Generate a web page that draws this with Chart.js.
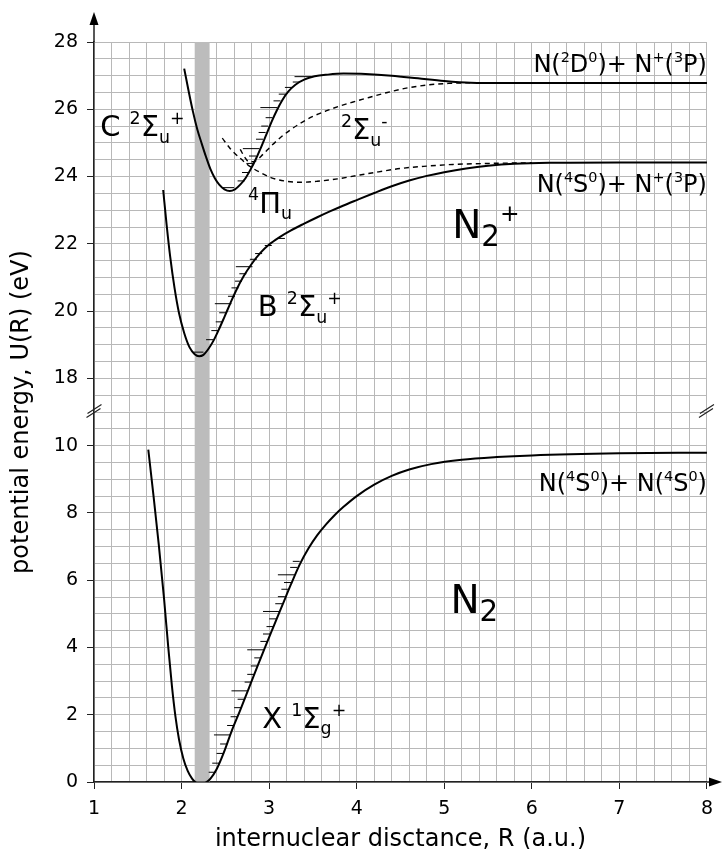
<!DOCTYPE html>
<html lang="en">
<head>
<meta charset="UTF-8" />
<title>N2 and N2+ potential energy curves</title>
<script src="https://cdn.jsdelivr.net/npm/chart.js"></script>
<style>
  html, body { margin: 0; padding: 0; background: #fff; }
  #wrap { width: 722px; height: 849px; }
</style>
</head>
<body>
<div id="wrap"><canvas id="pec"></canvas></div>
<script>
  // y axis is broken: 0..11 eV drawn as is, the N2+ part (17..28 eV) is shifted down by 6
  const BREAK_SHIFT = 6;

  // X 1Sg+ (N2), R in a.u., U in eV
  const xR = [1.62, 1.68, 1.74, 1.80, 1.85, 1.89, 1.93, 1.97, 2.02, 2.07, 2.12, 2.17, 2.22, 2.27, 2.33, 2.40, 2.48, 2.57, 2.67, 2.77, 2.865, 2.96, 3.05, 3.15, 3.25, 3.35, 3.45, 3.55, 3.65, 3.75, 3.85, 4.00, 4.20, 4.40, 4.60, 4.85, 5.20, 5.60, 6.00, 7.00, 8.00];
  const xU = [9.88, 8.50, 7.05, 5.45, 3.95, 2.85, 1.95, 1.28, 0.70, 0.33, 0.10, -0.03, -0.07, -0.03, 0.10, 0.38, 0.86, 1.50, 2.14, 2.80, 3.43, 4.05, 4.62, 5.25, 5.88, 6.47, 6.95, 7.34, 7.66, 7.94, 8.18, 8.50, 8.84, 9.10, 9.29, 9.45, 9.58, 9.66, 9.71, 9.77, 9.79];

  // B 2Su+ (N2+)
  const bR = [1.79, 1.83, 1.87, 1.92, 1.97, 2.03, 2.09, 2.15, 2.20, 2.25, 2.30, 2.36, 2.42, 2.49, 2.56, 2.63, 2.71, 2.80, 2.90, 3.00, 3.12, 3.25, 3.40, 3.55, 3.70, 3.85, 4.00, 4.20, 4.40, 4.60, 4.80, 5.00, 5.25, 5.50, 5.80, 6.20, 7.00, 8.00];
  const bU = [23.60, 22.55, 21.62, 20.68, 19.95, 19.35, 18.93, 18.72, 18.66, 18.70, 18.85, 19.10, 19.42, 19.83, 20.25, 20.65, 21.04, 21.40, 21.73, 21.98, 22.20, 22.40, 22.60, 22.79, 22.97, 23.14, 23.30, 23.51, 23.71, 23.88, 24.02, 24.13, 24.24, 24.32, 24.38, 24.41, 24.42, 24.42];

  // C 2Su+ (N2+)
  const cR = [2.03, 2.08, 2.13, 2.18, 2.23, 2.28, 2.33, 2.38, 2.43, 2.49, 2.55, 2.61, 2.67, 2.73, 2.79, 2.85, 2.91, 2.97, 3.03, 3.09, 3.15, 3.22, 3.30, 3.40, 3.52, 3.67, 3.85, 4.10, 4.40, 4.70, 5.00, 5.30, 5.70, 8.00];
  const cU = [27.21, 26.55, 25.93, 25.40, 24.98, 24.58, 24.22, 23.95, 23.76, 23.62, 23.57, 23.62, 23.76, 23.95, 24.22, 24.53, 24.88, 25.26, 25.64, 25.98, 26.27, 26.53, 26.73, 26.88, 26.98, 27.03, 27.06, 27.05, 27.00, 26.92, 26.84, 26.79, 26.78, 26.78];

  // 4Pu (dashed)
  const piR = [2.465, 2.55, 2.60, 2.68, 2.75, 2.83, 2.90, 3.02, 3.17, 3.36, 3.55, 3.78, 4.00, 4.25, 4.50, 4.80, 5.10, 5.50, 6.00];
  const piU = [25.14, 24.85, 24.71, 24.52, 24.36, 24.22, 24.12, 23.97, 23.87, 23.83, 23.86, 23.93, 24.03, 24.14, 24.24, 24.31, 24.36, 24.39, 24.41];

  // 2Su- (dashed)
  const smR = [2.67, 2.72, 2.77, 2.84, 2.93, 3.02, 3.13, 3.25, 3.38, 3.51, 3.65, 3.80, 3.95, 4.14, 4.35, 4.55, 4.80, 5.05, 5.30];
  const smU = [24.81, 24.58, 24.44, 24.46, 24.66, 24.90, 25.16, 25.40, 25.62, 25.80, 25.95, 26.09, 26.21, 26.35, 26.50, 26.62, 26.72, 26.77, 26.79];

  // vibrational levels (v = 0 spans the well, the others end on the right branch)
  const xV0 = [2.16, 2.29], xV0U = 0.0;
  const xLevU = [0.29, 0.56, 0.85, 1.13, 1.40, 1.68, 1.94, 2.21, 2.46, 2.71, 2.97, 3.20, 3.45, 3.69, 3.93, 4.18, 4.40, 4.62, 4.85, 5.07, 5.30, 5.51, 5.73, 5.93, 6.16, 6.38, 6.56];
  const xLevR = [2.39, 2.43, 2.48, 2.52, 2.56, 2.60, 2.64, 2.68, 2.72, 2.76, 2.80, 2.83, 2.87, 2.91, 2.94, 2.98, 3.01, 3.05, 3.08, 3.12, 3.15, 3.18, 3.22, 3.25, 3.29, 3.32, 3.35];

  const bV0 = [2.14, 2.25], bV0U = 18.78;
  const bLevU = [19.15, 19.42, 19.68, 19.95, 20.22, 20.44, 20.69, 20.89, 21.11, 21.32, 21.54, 21.71, 21.95, 22.16];
  const bLevR = [2.36, 2.42, 2.47, 2.51, 2.57, 2.61, 2.65, 2.69, 2.74, 2.81, 2.86, 2.92, 3.03, 3.18];

  const cV0 = [2.47, 2.60], cV0U = 23.67;
  const cLevU = [23.87, 24.12, 24.39, 24.61, 24.83, 25.11, 25.31, 25.50, 25.75, 26.05, 26.25, 26.45, 26.65, 26.81, 26.97];
  const cLevR = [2.72, 2.77, 2.82, 2.85, 2.89, 2.93, 2.96, 2.99, 3.04, 3.09, 3.13, 3.19, 3.26, 3.35, 3.48];

  // equilibrium band
  const bandR = [2.15, 2.32];

  const FONT = '"DejaVu Sans", "Liberation Sans", sans-serif';

  function curve(R, U, shift) {
    return R.map((r, i) => ({ x: r, y: U[i] - shift }));
  }

  function levels(v0, v0U, levU, levR, shift) {
    const pts = [{ x: v0[0], y: v0U - shift }, { x: v0[1], y: v0U - shift }, { x: null, y: null }];
    levU.forEach((u, i) => {
      const len = (i + 1) % 5 === 0 ? 0.19 : 0.08;
      pts.push({ x: levR[i] - len, y: u - shift }, { x: levR[i], y: u - shift }, { x: null, y: null });
    });
    return pts;
  }

  const solid = { borderColor: '#000', borderWidth: 2, pointRadius: 0, showLine: true, cubicInterpolationMode: 'monotone' };
  const dashed = { borderColor: '#000', borderWidth: 1.4, borderDash: [5, 4], pointRadius: 0, showLine: true, cubicInterpolationMode: 'monotone' };
  const hatch = { borderColor: '#000', borderWidth: 1, pointRadius: 0, showLine: true, tension: 0, spanGaps: false };

  const datasets = [
    Object.assign({ data: curve(xR, xU, 0) }, solid),
    Object.assign({ data: curve(bR, bU, BREAK_SHIFT) }, solid),
    Object.assign({ data: curve(cR, cU, BREAK_SHIFT) }, solid),
    Object.assign({ data: curve(piR, piU, BREAK_SHIFT) }, dashed),
    Object.assign({ data: curve(smR, smU, BREAK_SHIFT) }, dashed),
    Object.assign({ data: levels(xV0, xV0U, xLevU, xLevR, 0) }, hatch),
    Object.assign({ data: levels(bV0, bV0U, bLevU, bLevR, BREAK_SHIFT) }, hatch),
    Object.assign({ data: levels(cV0, cV0U, cLevU, cLevR, BREAK_SHIFT) }, hatch)
  ];

  // text labels: parts are [text, kind], kind n / sup / sub
  const labels = [
    { R: 1.07, U: 25.20, size: 29, parts: [['C ', 'n'], ['2', 'sup'], ['Σ', 'n'], ['u', 'sub'], ['+', 'sup']] },
    { R: 3.82, U: 25.11, size: 29, parts: [['2', 'sup'], ['Σ', 'n'], ['u', 'sub'], ['-', 'sup']] },
    { R: 2.76, U: 22.93, size: 29, parts: [['4', 'sup'], ['Π', 'n'], ['u', 'sub']] },
    { R: 5.09, U: 22.18, size: 39, sub: 0.75, parts: [['N', 'n'], ['2', 'sub'], ['+', 'sup']] },
    { R: 2.87, U: 19.85, size: 29, parts: [['B ', 'n'], ['2', 'sup'], ['Σ', 'n'], ['u', 'sub'], ['+', 'sup']] },
    { R: 2.92, U: 1.61, size: 29, parts: [['X ', 'n'], ['1', 'sup'], ['Σ', 'n'], ['g', 'sub'], ['+', 'sup']] },
    { R: 5.07, U: 5.03, size: 39, sub: 0.75, parts: [['N', 'n'], ['2', 'sub']] },
    { R: 8.0, U: 27.10, size: 24, align: 'right', parts: [['N(', 'n'], ['2', 'sup'], ['D', 'n'], ['0', 'sup'], [')+ N', 'n'], ['+', 'sup'], ['(', 'n'], ['3', 'sup'], ['P)', 'n']] },
    { R: 8.0, U: 23.53, size: 24, align: 'right', parts: [['N(', 'n'], ['4', 'sup'], ['S', 'n'], ['0', 'sup'], [')+ N', 'n'], ['+', 'sup'], ['(', 'n'], ['3', 'sup'], ['P)', 'n']] },
    { R: 8.0, U: 8.64, size: 24, align: 'right', parts: [['N(', 'n'], ['4', 'sup'], ['S', 'n'], ['0', 'sup'], [')+ N(', 'n'], ['4', 'sup'], ['S', 'n'], ['0', 'sup'], [')', 'n']] }
  ];

  function axisU(u) { return u > 11 ? u - BREAK_SHIFT : u; }

  function drawRich(ctx, lab, px, py) {
    const subScale = lab.sub || 0.6;
    const font = (kind) => {
      const fs = kind === 'n' ? lab.size : lab.size * (kind === 'sub' ? subScale : 0.6);
      return fs + 'px ' + FONT;
    };
    let w = 0;
    lab.parts.forEach(([t, k]) => { ctx.font = font(k); w += ctx.measureText(t).width; });
    let cx = lab.align === 'right' ? px - w : px;
    lab.parts.forEach(([t, k]) => {
      ctx.font = font(k);
      const dy = k === 'sup' ? -lab.size * 0.42 : k === 'sub' ? lab.size * 0.22 : 0;
      ctx.fillText(t, cx, py + dy);
      cx += ctx.measureText(t).width;
    });
  }

  const decor = {
    id: 'decor',
    beforeDatasetsDraw(chart) {
      const { ctx, chartArea, scales } = chart;
      const x0 = scales.x.getPixelForValue(bandR[0]);
      const x1 = scales.x.getPixelForValue(bandR[1]);
      ctx.save();
      ctx.fillStyle = '#bcbcbc';
      ctx.fillRect(x0, chartArea.top, x1 - x0, chartArea.bottom - chartArea.top);
      ctx.restore();
    },
    afterDraw(chart) {
      const { ctx, chartArea, scales } = chart;
      const L = chartArea.left, B = chartArea.bottom;
      ctx.save();
      ctx.strokeStyle = '#222';
      ctx.fillStyle = '#000';
      ctx.lineWidth = 1.5;
      // axis extensions and arrows
      ctx.beginPath();
      ctx.moveTo(L, chartArea.top); ctx.lineTo(L, 22);
      ctx.moveTo(chartArea.right, B); ctx.lineTo(712, B);
      ctx.stroke();
      ctx.beginPath();
      ctx.moveTo(L, 12); ctx.lineTo(L - 4.5, 25); ctx.lineTo(L + 4.5, 25); ctx.closePath();
      ctx.fill();
      ctx.beginPath();
      ctx.moveTo(722, B); ctx.lineTo(709, B - 4.5); ctx.lineTo(709, B + 4.5); ctx.closePath();
      ctx.fill();
      // break marks
      const yb = scales.y.getPixelForValue(11);
      ctx.lineWidth = 1.2;
      [L - 0.5, chartArea.right - 1].forEach((xc) => {
        ctx.beginPath();
        ctx.moveTo(xc - 7, yb + 5.5); ctx.lineTo(xc + 7, yb - 3.5);
        ctx.moveTo(xc - 6, yb + 1.5); ctx.lineTo(xc + 8, yb - 7.5);
        ctx.stroke();
      });
      // labels
      ctx.textBaseline = 'alphabetic';
      labels.forEach((lab) => {
        drawRich(ctx, lab, scales.x.getPixelForValue(lab.R), scales.y.getPixelForValue(axisU(lab.U)));
      });
      ctx.restore();
    }
  };

  const isInt = (v) => Math.abs(v - Math.round(v)) < 1e-6;
  const isEven = (v) => isInt(v) && Math.round(v) % 2 === 0;

  new Chart(document.getElementById('pec'), {
    type: 'scatter',
    data: { datasets },
    options: {
      responsive: true,
      maintainAspectRatio: false,
      animation: false,
      events: [],
      layout: { padding: { top: 42, right: 15, left: 0, bottom: 0 } },
      plugins: { legend: { display: false }, tooltip: { enabled: false } },
      scales: {
        x: {
          type: 'linear',
          min: 1, max: 8,
          afterFit(scale) { scale.height = 67; },
          ticks: {
            stepSize: 0.2, autoSkip: false, maxRotation: 0, padding: 9,
            color: '#000', font: { family: FONT, size: 19 },
            callback: (v) => (isInt(v) ? Math.round(v) : '')
          },
          grid: {
            color: '#b8b8b8', lineWidth: 1, tickLength: 7,
            tickColor: (c) => (c.tick && isInt(c.tick.value) ? '#222' : 'rgba(0,0,0,0)')
          },
          border: { color: '#222', width: 1.5 },
          title: {
            display: true, text: 'internuclear disctance, R (a.u.)', color: '#000',
            font: { family: FONT, size: 24, lineHeight: 1 }, padding: { top: 0, bottom: -3 }
          }
        },
        y: {
          type: 'linear',
          min: 0, max: 22,
          afterFit(scale) { scale.width = 94; },
          ticks: {
            stepSize: 0.5, autoSkip: false, padding: 9,
            color: '#000', font: { family: FONT, size: 19 },
            callback: (v) => (isEven(v) ? (v <= 10 ? Math.round(v) : (v >= 12 ? Math.round(v) + BREAK_SHIFT : '')) : '')
          },
          grid: {
            color: '#b8b8b8', lineWidth: 1, tickLength: 7,
            tickColor: (c) => (c.tick && isEven(c.tick.value) ? '#222' : 'rgba(0,0,0,0)')
          },
          border: { color: '#222', width: 1.5 },
          title: {
            display: true, text: 'potential energy, U(R) (eV)', color: '#000',
            font: { family: FONT, size: 24, lineHeight: 1 }, padding: { top: 10, bottom: 0 }
          }
        }
      }
    },
    plugins: [decor]
  });
</script>
</body>
</html>
